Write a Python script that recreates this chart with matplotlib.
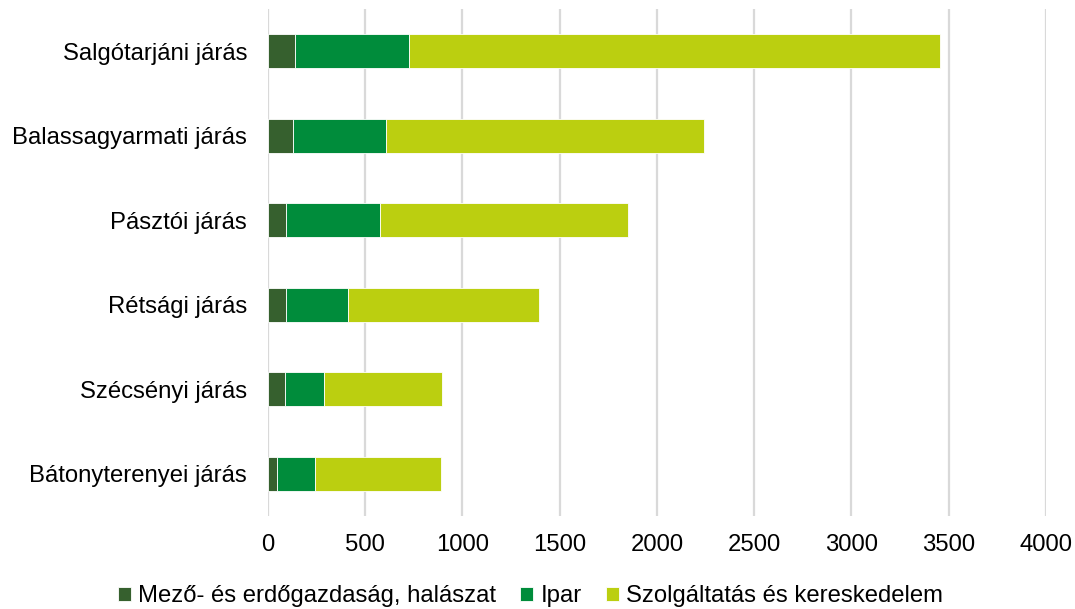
import matplotlib.pyplot as plt
import numpy as np

plt.rcParams['font.family'] = ['Liberation Sans', 'DejaVu Sans']

# Járások (top to bottom as in the chart)
districts = ["Salgótarjáni járás", "Balassagyarmati járás", "Pásztói járás",
             "Rétsági járás", "Szécsényi járás", "Bátonyterenyei járás"]

# Values per sector
agri = [137, 130, 93, 93, 89, 46]
industry = [590, 478, 481, 320, 198, 196]
services = [2730, 1632, 1277, 979, 606, 645]

series_names = ["Mező- és erdőgazdaság, halászat", "Ipar", "Szolgáltatás és kereskedelem"]
colors = ["#36602E", "#008C3B", "#BBCF10"]

fig = plt.figure(figsize=(10.75, 6.09), dpi=100)
ax = fig.add_axes([0.2493, 0.1527, 0.7237, 0.8325])

y = np.arange(len(districts))
left = np.zeros(len(districts))
for vals, name, col in zip([agri, industry, services], series_names, colors):
    ax.barh(y, vals, left=left, height=0.4, color=col, label=name,
            edgecolor="white", linewidth=0.6, zorder=3)
    left += np.array(vals)

ax.set_ylim(len(districts) - 0.5, -0.5)
ax.set_yticks(y)
ax.set_yticklabels(districts, fontsize=17.2)
ax.set_xlim(0, 4000)
ax.set_xticks(np.arange(0, 4001, 500))
ax.tick_params(axis='x', labelsize=17.2, length=0, pad=13)
ax.tick_params(axis='y', length=0, pad=15)
ax.xaxis.grid(True, color="#D9D9D9", linewidth=1.6, zorder=0)
for s in ax.spines.values():
    s.set_visible(False)

handles, labels = ax.get_legend_handles_labels()
fig.legend(handles, labels, loc="center", bbox_to_anchor=(0.4935, 0.021), ncol=3,
           frameon=False, fontsize=17.2, handlelength=0.55, handleheight=0.55,
           handletextpad=0.3, columnspacing=1.0, borderpad=0.1)

fig.savefig("out.png", dpi=100)
